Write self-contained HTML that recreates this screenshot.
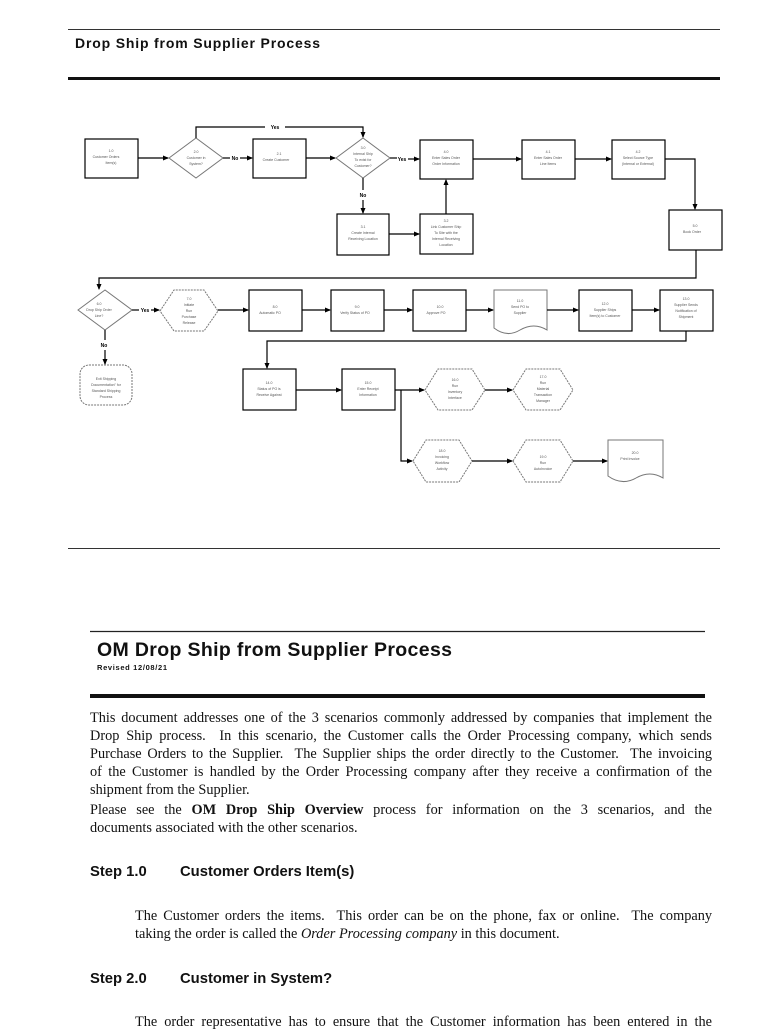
<!DOCTYPE html>
<html><head><meta charset="utf-8"><style>
body{margin:0;background:#fff;width:768px;height:1024px;overflow:hidden;position:relative;font-family:"Liberation Sans",sans-serif}
.abs{position:absolute}
.ln{position:absolute;left:90px;width:622px;font-family:"Liberation Serif",serif;font-size:14.3px;color:#111;text-align:justify;text-align-last:justify;white-space:nowrap;line-height:18px}
.ln.l{text-align-last:left}
.ln2{position:absolute;left:135px;width:577px;font-family:"Liberation Serif",serif;font-size:14.3px;color:#111;text-align:justify;text-align-last:justify;white-space:nowrap;line-height:18px}
.st{position:absolute;font-weight:bold;font-size:14.8px;color:#111}
</style></head><body>
<svg class="abs" style="left:0;top:0" width="768" height="1024" viewBox="0 0 768 1024">
<defs><marker id="a" markerWidth="6" markerHeight="6" refX="5" refY="3" orient="auto" markerUnits="userSpaceOnUse"><path d="M0,0.5 L6,3 L0,5.5z" fill="#000"/></marker></defs>
<line x1="68" y1="29.5" x2="720" y2="29.5" stroke="#333" stroke-width="1"/>
<text x="75" y="48" font-size="14" font-weight="bold" fill="#111" textLength="245" lengthAdjust="spacing">Drop Ship from Supplier Process</text>
<rect x="68" y="77" width="652" height="3" fill="#111"/>
<line x1="68" y1="548.5" x2="720" y2="548.5" stroke="#333" stroke-width="1"/>
<g fill="#fff" stroke="#000" stroke-width="1.2">
<rect x="85" y="139" width="53" height="39"/>
<rect x="253" y="139" width="53" height="39"/>
<rect x="420" y="140" width="53" height="39"/>
<rect x="522" y="140" width="53" height="39"/>
<rect x="612" y="140" width="53" height="39"/>
<rect x="669" y="210" width="53" height="40"/>
<rect x="337" y="214" width="52" height="41"/>
<rect x="420" y="214" width="53" height="40"/>
<rect x="249" y="290" width="53" height="41"/>
<rect x="331" y="290" width="53" height="41"/>
<rect x="413" y="290" width="53" height="41"/>
<rect x="579" y="290" width="53" height="41"/>
<rect x="660" y="290" width="53" height="41"/>
<rect x="243" y="369" width="53" height="41"/>
<rect x="342" y="369" width="53" height="41"/>
</g>
<g fill="#fff" stroke="#777" stroke-width="1">
<polygon points="169,158 196,138 223,158 196,178"/>
<polygon points="336,158 363,138 390,158 363,178"/>
<polygon points="78,310 105,290 132,310 105,330"/>
<path d="M494,290 H547 V330 Q534,322 520,330 Q507,338 494,328 Z"/>
<path d="M608,440 H663 V478 Q650,470 636,478 Q622,486 608,476 Z"/>
</g>
<g fill="#fff" stroke="#777" stroke-width="1" stroke-dasharray="2,1">
<polygon points="160,311 174,290 204,290 218,311 204,331 174,331"/>
<polygon points="425,390 438,369 472,369 485,390 472,410 438,410"/>
<polygon points="513,390 526,369 560,369 573,390 560,410 526,410"/>
<polygon points="413,461 426,440 459,440 472,461 459,482 426,482"/>
<polygon points="513,461 526,440 560,440 573,461 560,482 526,482"/>
<rect x="80" y="365" width="52" height="40" rx="9"/>
</g>
<g stroke="#000" stroke-width="1.2" fill="none">
<line x1="138" y1="158" x2="168" y2="158" marker-end="url(#a)"/>
<line x1="223" y1="158" x2="230" y2="158"/><line x1="240" y1="158" x2="252" y2="158" marker-end="url(#a)"/>
<polyline points="196,138 196,127 265,127"/><polyline points="285,127 363,127 363,137" marker-end="url(#a)"/>
<line x1="306" y1="158" x2="335" y2="158" marker-end="url(#a)"/>
<line x1="390" y1="158" x2="397" y2="158"/><line x1="408" y1="159" x2="419" y2="159" marker-end="url(#a)"/>
<line x1="363" y1="178" x2="363" y2="190"/><line x1="363" y1="200" x2="363" y2="213" marker-end="url(#a)"/>
<line x1="389" y1="234" x2="419" y2="234" marker-end="url(#a)"/>
<line x1="446" y1="214" x2="446" y2="180" marker-end="url(#a)"/>
<line x1="473" y1="159" x2="521" y2="159" marker-end="url(#a)"/>
<line x1="575" y1="159" x2="611" y2="159" marker-end="url(#a)"/>
<polyline points="665,159 695,159 695,209" marker-end="url(#a)"/>
<polyline points="696,250 696,278 99,278 99,289" marker-end="url(#a)"/>
<line x1="132" y1="310" x2="139" y2="310"/><line x1="151" y1="310" x2="159" y2="310" marker-end="url(#a)"/>
<line x1="218" y1="310" x2="248" y2="310" marker-end="url(#a)"/>
<line x1="302" y1="310" x2="330" y2="310" marker-end="url(#a)"/>
<line x1="384" y1="310" x2="412" y2="310" marker-end="url(#a)"/>
<line x1="466" y1="310" x2="493" y2="310" marker-end="url(#a)"/>
<line x1="547" y1="310" x2="578" y2="310" marker-end="url(#a)"/>
<line x1="632" y1="310" x2="659" y2="310" marker-end="url(#a)"/>
<line x1="105" y1="330" x2="105" y2="340"/><line x1="105" y1="350" x2="105" y2="364" marker-end="url(#a)"/>
<polyline points="686,331 686,341 267,341 267,368" marker-end="url(#a)"/>
<line x1="296" y1="390" x2="341" y2="390" marker-end="url(#a)"/>
<line x1="395" y1="390" x2="424" y2="390" marker-end="url(#a)"/>
<polyline points="401,390 401,461 412,461" marker-end="url(#a)"/>
<line x1="485" y1="390" x2="512" y2="390" marker-end="url(#a)"/>
<line x1="472" y1="461" x2="512" y2="461" marker-end="url(#a)"/>
<line x1="573" y1="461" x2="607" y2="461" marker-end="url(#a)"/>
</g>
<g font-size="5" font-weight="bold" fill="#000" text-anchor="middle">
<text x="235" y="160">No</text><text x="275" y="129">Yes</text><text x="402" y="161">Yes</text>
<text x="363" y="197">No</text><text x="145" y="312">Yes</text><text x="104" y="347">No</text>
</g>
<g font-size="3.5" fill="#555" text-anchor="middle">
<text x="111" y="152">1.0</text><text x="106" y="158">Customer Orders</text><text x="111" y="164">Item(s)</text>
<text x="196" y="153">2.0</text><text x="196" y="159">Customer in</text><text x="196" y="165">System?</text>
<text x="279" y="155">2.1</text><text x="276" y="161">Create Customer</text>
<text x="363" y="149">3.0</text><text x="363" y="155">Internal Ship</text><text x="363" y="161">To exist for</text><text x="363" y="167">Customer?</text>
<text x="446" y="153">4.0</text><text x="446" y="159">Enter Sales Order</text><text x="446" y="165">Order Information</text>
<text x="548" y="153">4.1</text><text x="548" y="159">Enter Sales Order</text><text x="548" y="165">Line Items</text>
<text x="638" y="153">4.2</text><text x="638" y="159">Select Source Type</text><text x="638" y="165">(Internal or External)</text>
<text x="695" y="227">5.0</text><text x="692" y="233">Book Order</text>
<text x="363" y="228">3.1</text><text x="363" y="234">Create Internal</text><text x="363" y="240">Receiving Location</text>
<text x="446" y="222">3.2</text><text x="446" y="228">Link Customer Ship</text><text x="446" y="234">To Site with the</text><text x="446" y="240">Internal Receiving</text><text x="446" y="246">Location</text>
<text x="99" y="305">6.0</text><text x="99" y="311">Drop Ship Order</text><text x="99" y="317">Line?</text>
<text x="189" y="300">7.0</text><text x="189" y="306">Initiate</text><text x="189" y="312">Run</text><text x="189" y="318">Purchase</text><text x="189" y="324">Release</text>
<text x="275" y="308">8.0</text><text x="270" y="314">Automatic PO</text>
<text x="357" y="308">9.0</text><text x="355" y="314">Verify Status of PO</text>
<text x="440" y="308">10.0</text><text x="436" y="314">Approve PO</text>
<text x="520" y="302">11.0</text><text x="520" y="308">Send PO to</text><text x="520" y="314">Supplier</text>
<text x="605" y="305">12.0</text><text x="605" y="311">Supplier Ships</text><text x="605" y="317">Item(s) to Customer</text>
<text x="686" y="300">13.0</text><text x="686" y="306">Supplier Sends</text><text x="686" y="312">Notification of</text><text x="686" y="318">Shipment</text>
<text x="106" y="380">Exit Shipping</text><text x="106" y="386">Documentation" for</text><text x="106" y="392">Standard Shipping</text><text x="106" y="398">Process</text>
<text x="269" y="384">14.0</text><text x="269" y="390">Status of PO is</text><text x="269" y="396">Receive Against</text>
<text x="368" y="384">15.0</text><text x="368" y="390">Enter Receipt</text><text x="368" y="396">Information</text>
<text x="455" y="381">16.0</text><text x="455" y="387">Run</text><text x="455" y="393">Inventory</text><text x="455" y="399">Interface</text>
<text x="543" y="378">17.0</text><text x="543" y="384">Run</text><text x="543" y="390">Material</text><text x="543" y="396">Transaction</text><text x="543" y="402">Manager</text>
<text x="442" y="452">18.0</text><text x="442" y="458">Invoicing</text><text x="442" y="464">Workflow</text><text x="442" y="470">Activity</text>
<text x="543" y="458">19.0</text><text x="543" y="464">Run</text><text x="543" y="470">AutoInvoice</text>
<text x="635" y="454">20.0</text><text x="630" y="460">Print Invoice</text>
</g>
<line x1="90" y1="631.5" x2="705" y2="631.5" stroke="#222" stroke-width="1.2"/>
<text x="97" y="656" font-size="19.5" font-weight="bold" fill="#111" textLength="355" lengthAdjust="spacing">OM Drop Ship from Supplier Process</text>
<text x="97" y="670" font-size="7.5" font-weight="bold" fill="#111" textLength="70" lengthAdjust="spacing">Revised 12/08/21</text>
<rect x="90" y="694" width="615" height="4" fill="#111"/>
</svg>
<div class="ln" style="top:709px">This document addresses one of the 3 scenarios commonly addressed by companies that implement the</div>
<div class="ln" style="top:727px">Drop Ship process.&nbsp; In this scenario, the Customer calls the Order Processing company, which sends</div>
<div class="ln" style="top:745px">Purchase Orders to the Supplier.&nbsp; The Supplier ships the order directly to the Customer.&nbsp; The invoicing</div>
<div class="ln" style="top:763px">of the Customer is handled by the Order Processing company after they receive a confirmation of the</div>
<div class="ln l" style="top:781px">shipment from the Supplier.</div>
<div class="ln" style="top:801px">Please see the <b>OM Drop Ship Overview</b> process for information on the 3 scenarios, and the</div>
<div class="ln l" style="top:819px">documents associated with the other scenarios.</div>
<div class="st" style="left:90px;top:864px">Step 1.0</div><div class="st" style="left:180px;top:864px">Customer Orders Item(s)</div>
<div class="ln2" style="top:907px">The Customer orders the items.&nbsp; This order can be on the phone, fax or online.&nbsp; The company</div>
<div class="ln2" style="top:925px;text-align-last:left">taking the order is called the <i>Order Processing company</i> in this document.</div>
<div class="st" style="left:90px;top:971px">Step 2.0</div><div class="st" style="left:180px;top:971px">Customer in System?</div>
<div class="ln2" style="top:1013px">The order representative has to ensure that the Customer information has been entered in the</div>
</body></html>
